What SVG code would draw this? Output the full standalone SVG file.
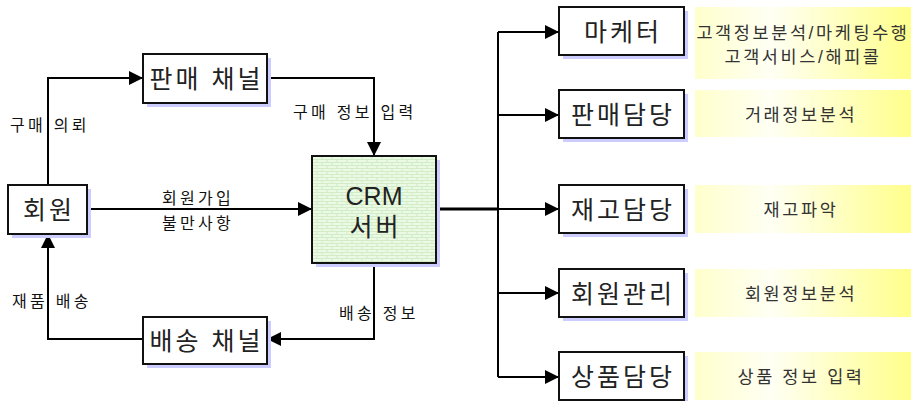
<svg xmlns="http://www.w3.org/2000/svg" width="911" height="401" viewBox="0 0 911 401">
  <style>
    .box { fill: #ffffff; stroke: #111111; stroke-width: 2; }
    .shadow { fill: #ccccff; }
    .btxt { font-family: "Liberation Sans", "Noto Sans CJK KR", sans-serif; font-size: 25px; letter-spacing: 3px; fill: #222222; text-anchor: middle; dominant-baseline: central; }
    .latin { letter-spacing: 0; }
    .lbl { font-family: "Liberation Sans", "Noto Sans CJK KR", sans-serif; font-size: 16px; letter-spacing: 3.3px; fill: #111111; dominant-baseline: central; }
    .note { font-family: "Liberation Sans", "Noto Sans CJK KR", sans-serif; font-size: 17.5px; letter-spacing: 2.6px; fill: #333333; text-anchor: middle; dominant-baseline: central; }
    .wire { fill: none; stroke: #000000; stroke-width: 2; }
    .note-bg { fill: url(#noteFill); }
  </style>
  <defs>
    <marker id="arrowL" markerWidth="14" markerHeight="14" refX="14" refY="7" orient="auto" markerUnits="userSpaceOnUse">
      <path d="M0,0 L14,7 L0,14 Z" fill="#000000"/>
    </marker>
    <linearGradient id="noteFill" x1="0" y1="0" x2="1" y2="0">
      <stop offset="0" stop-color="#ffffcc"/>
      <stop offset="0.35" stop-color="#fffff4"/>
      <stop offset="1" stop-color="#ffff8c"/>
    </linearGradient>
    <pattern id="brick" width="10" height="6" patternUnits="userSpaceOnUse">
      <rect width="10" height="6" fill="#eafae4"/>
      <path d="M0,0.5 H10 M0,3.5 H10 M2,0 V3 M7,3 V6" stroke="#d2ecc8" stroke-width="1"/>
    </pattern>
  </defs>

  <!-- connectors -->
  <g id="connectors">
    <path class="wire" d="M48,185 V78 H143" marker-end="url(#arrowL)"/>
    <path class="wire" d="M267,78 H374 V156" marker-end="url(#arrowL)"/>
    <path class="wire" d="M87,209 H312" marker-end="url(#arrowL)"/>
    <path class="wire" d="M374,263 V339 H267" marker-end="url(#arrowL)"/>
    <path class="wire" d="M143,339 H48 V234" marker-end="url(#arrowL)"/>
    <path d="M436,209 H498" fill="none" stroke="#000" stroke-width="3"/>
    <path class="wire" d="M498,32 V377"/>
    <path class="wire" d="M498,32 H559" marker-end="url(#arrowL)"/>
    <path class="wire" d="M498,115 H559" marker-end="url(#arrowL)"/>
    <path class="wire" d="M498,209 H559" marker-end="url(#arrowL)"/>
    <path class="wire" d="M498,293 H559" marker-end="url(#arrowL)"/>
    <path class="wire" d="M498,377 H559" marker-end="url(#arrowL)"/>
    <text class="lbl" x="10" y="125">구매 의뢰</text>
    <text class="lbl" x="293" y="112">구매 정보 입력</text>
    <text class="lbl" x="198" y="198" text-anchor="middle">회원가입</text>
    <text class="lbl" x="198" y="223" text-anchor="middle">불만사항</text>
    <text class="lbl" x="12" y="301">재품 배송</text>
    <text class="lbl" x="339" y="313">배송 정보</text>
  </g>

  <!-- left side nodes -->
  <g id="member">
    <rect class="shadow" x="12" y="189" width="79" height="49"/>
    <rect class="box" x="8" y="185" width="79" height="49"/>
    <text class="btxt" x="49" y="210">회원</text>
  </g>
  <g id="sales-channel">
    <rect class="shadow" x="147" y="58" width="124" height="49"/>
    <rect class="box" x="143" y="54" width="124" height="49"/>
    <text class="btxt" x="206.5" y="79">판매 채널</text>
  </g>
  <g id="delivery-channel">
    <rect class="shadow" x="147" y="321" width="124" height="47"/>
    <rect class="box" x="143" y="317" width="124" height="47"/>
    <text class="btxt" x="206.5" y="341">배송 채널</text>
  </g>
  <g id="crm-server">
    <rect class="shadow" x="316" y="160" width="124" height="107"/>
    <rect x="312" y="156" width="124" height="107" fill="url(#brick)" stroke="#111" stroke-width="2"/>
    <text class="btxt latin" x="374" y="196">CRM</text>
    <text class="btxt" x="375.5" y="227">서버</text>
  </g>

  <!-- right side nodes -->
  <g id="marketer">
    <rect class="shadow" x="563" y="11" width="125" height="48"/>
    <rect class="box" x="559" y="7" width="125" height="48"/>
    <text class="btxt" x="623" y="32">마케터</text>
    <rect class="note-bg" x="695" y="7" width="216" height="72"/>
    <text class="note" x="803" y="33">고객정보분석/마케팅수행</text>
    <text class="note" x="803" y="57">고객서비스/해피콜</text>
  </g>
  <g id="sales-manager">
    <rect class="shadow" x="563" y="94" width="125" height="48"/>
    <rect class="box" x="559" y="90" width="125" height="48"/>
    <text class="btxt" x="623" y="115">판매담당</text>
    <rect class="note-bg" x="695" y="90" width="216" height="47"/>
    <text class="note" x="801" y="115">거래정보분석</text>
  </g>
  <g id="stock-manager">
    <rect class="shadow" x="563" y="189" width="125" height="48"/>
    <rect class="box" x="559" y="185" width="125" height="48"/>
    <text class="btxt" x="623" y="210">재고담당</text>
    <rect class="note-bg" x="695" y="185" width="216" height="48"/>
    <text class="note" x="801" y="210">재고파악</text>
  </g>
  <g id="member-manager">
    <rect class="shadow" x="563" y="273" width="125" height="48"/>
    <rect class="box" x="559" y="269" width="125" height="48"/>
    <text class="btxt" x="623" y="294">회원관리</text>
    <rect class="note-bg" x="695" y="269" width="216" height="48"/>
    <text class="note" x="801" y="294">회원정보분석</text>
  </g>
  <g id="product-manager">
    <rect class="shadow" x="563" y="356" width="125" height="48"/>
    <rect class="box" x="559" y="352" width="125" height="48"/>
    <text class="btxt" x="623" y="377">상품담당</text>
    <rect class="note-bg" x="695" y="352" width="216" height="48"/>
    <text class="note" x="801" y="377">상품 정보 입력</text>
  </g>
</svg>
